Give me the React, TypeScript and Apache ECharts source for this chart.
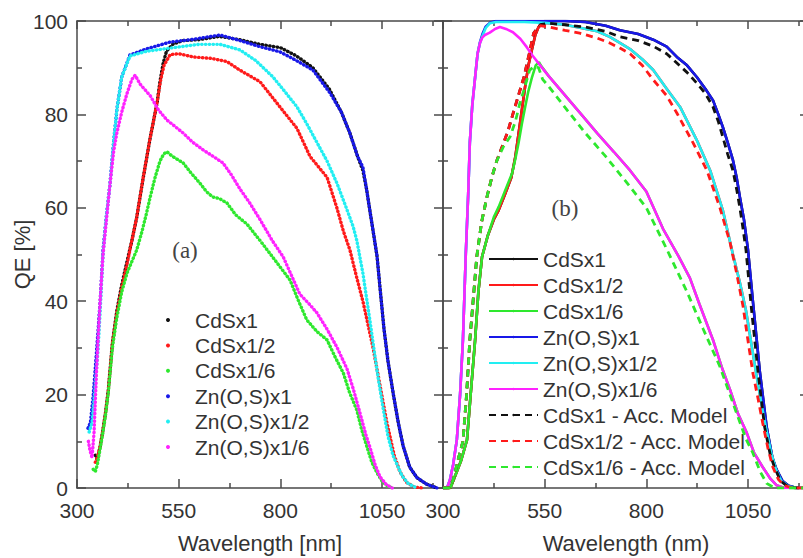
import React, { useEffect, useRef } from 'react';
import * as echarts from 'echarts';

// ---------- categories / names ----------
const measuredNames = ['CdSx1', 'CdSx1/2', 'CdSx1/6', 'Zn(O,S)x1', 'Zn(O,S)x1/2', 'Zn(O,S)x1/6'];
const modelNames = ['CdSx1 - Acc. Model', 'CdSx1/2 - Acc. Model', 'CdSx1/6 - Acc. Model'];
const measuredColors = ['#111111', '#ff1a1a', '#2ee82e', '#1818e8', '#22eef2', '#ff22ff'];
const modelColors = ['#111111', '#ff1a1a', '#2ee82e'];

// ---------- tick values ----------
const xMajorTicks = [300, 550, 800, 1050];
const xMinorTicks = [425, 675, 925, 1175];
const xMin = 300;
const xMax = 1200;
const yMin = 0;
const yMax = 100;
const yStep = 20;

// ---------- panel (a): measured EQE (dots) ----------
const leftCdS1 = [[345,7],[350,6],[357,9],[363,12],[370,16],[377,21],[387,31],[398,38],[410,43.5],[423,48.5],[435,53],[447,58],[462,66],[480,75],[497,82.5],[504,87],[512,91],[520,93.5],[535,95],[560,95.8],[600,96],[650,96.7],[700,96],[750,95],[800,94.3],[840,92.5],[880,90],[920,85.5],[950,80.5],[971,76],[990,71],[1003,68],[1012,64],[1020,59.5],[1030,54],[1038,49.5],[1045,43],[1055,34],[1065,27],[1078,20],[1090,14],[1102,9],[1118,4.5],[1136,2.2],[1160,0.8],[1185,0]];
const leftCdS12 = [[345,5.5],[350,6.5],[357,9],[363,12],[370,16],[377,21],[387,31],[398,37.5],[410,43],[423,48],[435,53],[447,58],[462,66],[480,75],[497,82.5],[506,87.5],[514,90.5],[529,92.8],[550,93],[586,92.3],[630,92],[669,91.3],[700,89.5],[750,87],[799,81.6],[841,77],[873,71],[915,66.5],[939,60],[955,55],[971,51],[988,45],[1003,40],[1028,30],[1045,22],[1062,14],[1080,7],[1094,3.5],[1110,1.2],[1130,0.2],[1150,0]];
const leftCdS16 = [[340,4],[345,3.5],[350,5],[357,8.5],[363,11.5],[370,15.5],[377,20.5],[387,30],[398,36.5],[410,42],[423,46],[435,48.5],[447,51],[460,55],[470,58.5],[480,62.3],[492,66.5],[504,70],[513,71.5],[521,72],[535,71],[561,69.6],[580,67.5],[602,65.3],[618,63.5],[634,62.3],[650,62],[669,61],[690,58.5],[718,56.5],[750,53],[785,49],[824,44.5],[845,40],[865,36],[890,33.5],[915,31.7],[935,28],[955,24.6],[970,20.5],[988,16.7],[1000,12.5],[1013,8.8],[1025,5.5],[1038,3.2],[1050,1.5],[1062,0.5],[1075,0]];
const leftZn1 = [[327,12.8],[333,14],[340,20],[347,28],[352,34],[357,40],[364,51],[372,58],[381,65],[390,74],[398,81],[410,88],[430,92.7],[470,94],[529,95.5],[580,96],[652,97],[701,95.8],[750,94.5],[799,93.4],[840,91.5],[880,89.5],[922,84.6],[950,80.5],[971,76],[990,71],[1003,68.7],[1012,64],[1020,59.5],[1030,54],[1038,49.5],[1045,43],[1055,34],[1065,27],[1078,20],[1090,14],[1102,9],[1118,4.5],[1136,2.2],[1160,0.8],[1185,0]];
const leftZn12 = [[330,12],[337,14],[345,22],[352,30],[357,38],[364,50],[372,58],[381,65],[390,74],[398,81],[410,88],[430,92.5],[470,93.5],[529,94.2],[600,95],[652,95],[701,93.8],[740,91.5],[782,88],[810,85],[841,81.6],[865,78],[890,74],[915,70],[939,65.3],[960,60.5],[979,56],[988,53],[1003,46],[1020,36],[1038,25],[1052,17.5],[1065,11],[1077,7],[1087,5],[1100,2.5],[1114,1],[1135,0]];
const leftZn16 = [[328,10],[332,8],[337,6.5],[342,12],[348,25],[352,32],[357,40],[364,50],[373,58],[381,65],[390,72],[398,76],[410,80.5],[423,84.5],[435,87.5],[443,88.4],[455,86.5],[470,85],[480,84],[500,81],[521,78.8],[540,77.5],[561,76],[585,74],[610,72.4],[635,71],[659,69.6],[680,67],[701,64],[725,61],[750,57.5],[780,53],[807,49.5],[830,45],[848,41.5],[870,39.5],[890,37.5],[915,34],[940,30],[964,25.5],[980,21],[996,16],[1010,11.5],[1020,8.8],[1033,5],[1045,2.4],[1060,0.8],[1075,0]];

// ---------- panel (b): measured (solid) and model (dashed) ----------
const rightCdS1 = [[300,0],[318,0],[326,1.7],[345,6],[359,10.3],[368,20],[379,31.7],[387,42],[396,49.5],[410,54],[425,57.5],[437,59.5],[452,62.8],[468,66.5],[478,71],[486,76],[494,81],[502,86],[510,90.5],[519,94],[527,97],[535,98.7],[545,99.7],[550,100],[600,100],[650,99.8],[700,99],[735,98],[780,97.2],[817,96],[850,94.5],[875,92.3],[900,90.5],[924,88],[945,85.5],[964,83],[977,80],[988,77.3],[1000,74],[1013,70.2],[1022,66.5],[1030,62.3],[1040,57.5],[1050,51],[1062,40],[1079,25],[1096,13],[1110,6.5],[1120,4],[1135,1.5],[1150,0.5],[1170,0],[1200,0]];
const rightCdS12 = [[300,0],[318,0],[326,1.7],[345,6],[359,10.3],[368,20],[379,31.7],[387,42],[396,49.5],[410,54],[425,57.5],[437,59.5],[452,62.8],[468,66.5],[478,71],[486,76],[494,81],[502,86],[510,90.5],[519,94],[527,97],[535,98.7],[545,99.5],[550,99.6],[600,99.2],[640,98.5],[679,97.8],[710,96.6],[735,95.3],[760,94],[790,91.8],[817,89.5],[850,85.5],[883,81.6],[924,74.5],[957,68],[988,59.5],[1013,50],[1030,44],[1045,38],[1058,31],[1070,24.6],[1082,18.5],[1095,12.5],[1107,7.5],[1119,3.9],[1132,1.5],[1150,0.3],[1170,0],[1200,0]];
const rightCdS16 = [[300,0],[318,0],[326,1.7],[345,6],[359,10.3],[368,20],[379,31.7],[387,42],[396,49.5],[410,54],[425,58],[437,60.2],[452,63.5],[470,67.4],[478,70.5],[486,74],[494,78],[502,81.6],[510,85],[519,88],[528,90.5],[536,91.2],[542,90.3],[560,88.2],[595,84.6],[640,80],[679,76],[720,72],[760,68],[800,63.5],[841,55.5],[880,49.5],[907,45],[930,39.5],[964,31.7],[985,26],[1006,21],[1025,16],[1047,11.8],[1065,7.5],[1086,4.5],[1105,2],[1120,0.6],[1140,0],[1200,0]];
const rightZn1 = [[300,0],[310,0],[317,1.7],[325,5],[334,10.3],[342,20],[349,31.7],[356,50],[362,63],[366,74],[372,82],[379,88],[385,93],[391,95.5],[397,97.2],[405,98.8],[415,99.6],[430,100],[550,100],[600,100],[650,99.8],[700,99],[735,98],[780,97.2],[817,96],[850,94.5],[875,92.3],[900,90.5],[924,88],[945,85.5],[964,83],[977,80],[988,77.3],[1000,74],[1013,70.2],[1022,66.5],[1030,62.3],[1040,57.5],[1050,51],[1062,40],[1079,25],[1096,13],[1110,6.5],[1120,4],[1135,1.5],[1150,0.5],[1170,0],[1200,0]];
const rightZn12 = [[300,0],[310,0],[317,1.7],[325,5],[334,10.3],[342,20],[349,31.7],[356,50],[362,63],[366,74],[372,82],[379,88],[385,93],[391,95.3],[397,96.8],[405,98.5],[415,99.5],[430,99.8],[500,99.8],[550,99.6],[600,99.2],[640,98.5],[679,97.8],[710,96.6],[735,95.3],[760,94],[790,91.8],[817,89.5],[850,85.5],[883,81.6],[924,74.5],[957,68],[988,59.5],[1013,50],[1030,44],[1045,38],[1058,31],[1070,24.6],[1082,18.5],[1095,12.5],[1107,7.5],[1119,3.9],[1132,1.5],[1150,0.3],[1170,0],[1200,0]];
const rightZn16 = [[300,0],[310,0],[317,1.7],[325,5],[334,10.3],[342,20],[349,31.7],[356,50],[362,63],[366,74],[372,82],[379,88],[385,93],[391,95.3],[397,96.5],[403,97],[415,97.5],[428,98.3],[440,98.7],[455,98.3],[472,97.6],[490,96.2],[506,94.4],[520,92.6],[538,90.6],[560,88.2],[595,84.6],[640,80],[679,76],[720,72],[760,68],[800,63.5],[841,55.5],[880,49.5],[907,45],[930,39.5],[964,31.7],[985,26],[1006,21],[1025,16],[1047,11.8],[1065,7.5],[1086,4.5],[1105,2],[1120,0.6],[1140,0],[1200,0]];
const modelCdS1 = [[300,0],[315,0],[325,1.7],[337,6],[349,10],[358,20],[366,31.7],[374,40],[383,49.5],[395,57],[408,62.3],[420,66.5],[432,70],[445,73],[460,76.5],[475,81],[499,88],[512,93],[523,97.4],[539,99.2],[560,99.5],[600,99.2],[650,98.7],[700,97.8],[735,96.6],[780,95.8],[817,94.6],[850,93],[875,91],[900,89],[924,86.7],[945,84.5],[964,81.6],[977,78.5],[988,75.2],[1000,71.5],[1013,68],[1022,64],[1030,60],[1037,56],[1045,51],[1058,38.8],[1075,24.6],[1091,13],[1105,7],[1115,4.5],[1130,1.5],[1145,0.5],[1165,0],[1200,0]];
const modelCdS12 = [[300,0],[315,0],[325,1.7],[337,6],[349,10],[358,20],[366,31.7],[374,40],[383,49.5],[395,57],[408,62.3],[420,66.5],[432,70],[445,73],[460,76.5],[475,81],[499,88],[512,93],[523,97.4],[539,99],[555,98.8],[600,98],[636,97.4],[680,96.3],[710,95.3],[735,94.2],[760,93],[790,90.5],[817,87.4],[850,84],[875,80.3],[915,73.9],[949,68],[981,60],[1006,52.5],[1022,46],[1038,38.8],[1050,31.5],[1062,24.6],[1075,19],[1086,14],[1099,8.5],[1111,4.5],[1125,1.8],[1140,0.5],[1160,0],[1200,0]];
const modelCdS16 = [[300,0],[315,0],[325,1.7],[337,6],[349,10],[358,20],[366,31.7],[374,40],[383,49.5],[395,57],[408,62.3],[420,66.5],[432,70],[448,73],[465,75.2],[478,78.5],[489,82.4],[500,85.5],[513,89.5],[525,90.3],[535,90],[545,87.5],[560,86],[600,81.5],[650,76],[700,71],[760,64.5],[800,60],[851,51],[900,42],[940,34],[981,26],[1020,16.5],[1045,10.5],[1062,7.5],[1080,3.5],[1096,1],[1115,0],[1200,0]];

const leftData = [leftCdS1, leftCdS12, leftCdS16, leftZn1, leftZn12, leftZn16];
const rightData = [rightCdS1, rightCdS12, rightCdS16, rightZn1, rightZn12, rightZn16];
const modelData = [modelCdS1, modelCdS12, modelCdS16];

const FONT = '"Liberation Sans", Arial, sans-serif';
const AXIS_COLOR = '#4a4a4a';
const TEXT_COLOR = '#333333';
const plainNumber = (v: number) => String(v);

function buildXAxes(gridIndex: number, name: string) {
  const line = { show: true, lineStyle: { color: AXIS_COLOR, width: 1.5 } };
  const tickStyle = { color: AXIS_COLOR, width: 1.5 };
  const base = { type: 'value', gridIndex, min: xMin, max: xMax, splitLine: { show: false } };
  return [
    {
      ...base, position: 'bottom', axisLine: line,
      axisTick: { show: true, inside: true, length: 9, customValues: xMajorTicks, lineStyle: tickStyle },
      axisLabel: { show: true, customValues: xMajorTicks, formatter: plainNumber, margin: 14, lineHeight: 16, color: TEXT_COLOR, fontSize: 21, fontFamily: FONT },
      name, nameLocation: 'middle', nameGap: 44, nameMoveOverlap: false,
      nameTextStyle: { color: TEXT_COLOR, fontSize: 22, fontFamily: FONT },
    },
    {
      ...base, position: 'bottom', axisLine: { show: false },
      axisTick: { show: true, inside: true, length: 5, customValues: xMinorTicks, lineStyle: tickStyle },
      axisLabel: { show: false },
    },
    {
      ...base, position: 'top', axisLine: line,
      axisTick: { show: true, inside: true, length: 8, customValues: xMajorTicks, lineStyle: tickStyle },
      axisLabel: { show: false },
    },
    {
      ...base, position: 'top', axisLine: { show: false },
      axisTick: { show: true, inside: true, length: 5, customValues: xMinorTicks, lineStyle: tickStyle },
      axisLabel: { show: false },
    },
  ];
}

function buildYAxis(gridIndex: number, position: string, withLabels: boolean) {
  const tickStyle = { color: AXIS_COLOR, width: 1.5 };
  const axis: any = {
    type: 'value', gridIndex, position, min: yMin, max: yMax, interval: yStep,
    axisLine: { show: true, lineStyle: { color: AXIS_COLOR, width: 1.5 } },
    axisTick: { show: true, inside: true, length: 9, lineStyle: tickStyle },
    minorTick: { show: true, splitNumber: 2, length: 5, lineStyle: tickStyle },
    splitLine: { show: false },
    minorSplitLine: { show: false },
    axisLabel: withLabels
      ? { show: true, margin: 9, lineHeight: 14, formatter: plainNumber, color: TEXT_COLOR, fontSize: 21, fontFamily: FONT }
      : { show: false },
  };
  if (withLabels) {
    axis.name = 'QE [%]';
    axis.nameLocation = 'middle';
    axis.nameGap = 44;
    axis.nameMoveOverlap = false;
    axis.nameTextStyle = { color: TEXT_COLOR, fontSize: 22, fontFamily: FONT };
  }
  return axis;
}

export default function App() {
  const ref = useRef<HTMLDivElement>(null);
  useEffect(() => {
    if (!ref.current) return;
    const chart = echarts.init(ref.current, null, { renderer: 'svg' });

    const leftSeries = measuredNames.map((n, i) => ({
      type: 'line', name: 'a:' + n, xAxisIndex: 0, yAxisIndex: 0,
      data: leftData[i], symbol: 'none', silent: true, z: 2 + i,
      color: measuredColors[i],
      itemStyle: { color: measuredColors[i] },
      lineStyle: { color: measuredColors[i], width: 3.4, type: [0.4, 3.4], cap: 'round' },
    }));
    const rightSeries = measuredNames.map((n, i) => ({
      type: 'line', name: 'b:' + n, xAxisIndex: 4, yAxisIndex: 2,
      data: rightData[i], symbol: 'none', silent: true, z: 2 + i,
      color: measuredColors[i],
      itemStyle: { color: measuredColors[i] },
      lineStyle: { color: measuredColors[i], width: 2.6 },
    }));
    const modelSeries = modelNames.map((n, i) => ({
      type: 'line', name: n, xAxisIndex: 4, yAxisIndex: 2,
      data: modelData[i], symbol: 'none', silent: true, z: 10 + i,
      color: modelColors[i],
      itemStyle: { color: modelColors[i] },
      lineStyle: { color: modelColors[i], width: 2.8, type: [7, 5] },
    }));

    const legendText = { color: TEXT_COLOR, fontSize: 21, lineHeight: 21, fontFamily: FONT };

    chart.setOption({
      animation: false,
      backgroundColor: '#ffffff',
      grid: [
        { left: 77, top: 21, width: 366, height: 467, containLabel: false, outerBoundsMode: 'none' },
        { left: 443, top: 21, width: 366, height: 467, containLabel: false, outerBoundsMode: 'none' },
      ],
      xAxis: [...buildXAxes(0, 'Wavelength [nm]'), ...buildXAxes(1, 'Wavelength (nm)')],
      yAxis: [
        buildYAxis(0, 'left', true),
        buildYAxis(0, 'right', false),
        buildYAxis(1, 'left', false),
        buildYAxis(1, 'right', false),
      ],
      legend: [
        {
          orient: 'vertical', left: 166, top: 309.5, padding: 0, itemGap: 4.4,
          itemWidth: 44, itemHeight: 4, icon: 'circle', selectedMode: false,
          itemStyle: { borderWidth: 0 },
          data: measuredNames.map((n) => ({ name: 'a:' + n, icon: 'circle' })),
          formatter: (n: string) => n.slice(2),
          textStyle: legendText,
        },
        {
          orient: 'vertical', left: 488, top: 248.5, padding: 0, itemGap: 5,
          itemWidth: 49, itemHeight: 3, selectedMode: false,
          data: [...measuredNames.map((n) => 'b:' + n), ...modelNames],
          formatter: (n: string) => (n.startsWith('b:') ? n.slice(2) : n),
          textStyle: legendText,
        },
      ],
      graphic: [
        { type: 'text', x: 185, y: 250, silent: true,
          style: { text: '(a)', fill: '#444', fontSize: 23, fontFamily: '"Liberation Serif", "Times New Roman", serif', align: 'center', verticalAlign: 'middle' } },
        { type: 'text', x: 565, y: 208, silent: true,
          style: { text: '(b)', fill: '#444', fontSize: 23, fontFamily: '"Liberation Serif", "Times New Roman", serif', align: 'center', verticalAlign: 'middle' } },
      ],
      series: [...leftSeries, ...rightSeries, ...modelSeries],
    });
    return () => chart.dispose();
  }, []);

  return (
    <div
      ref={ref}
      style={{ position: 'fixed', left: 0, top: 0, width: 803, height: 558, background: '#fff' }}
    />
  );
}
